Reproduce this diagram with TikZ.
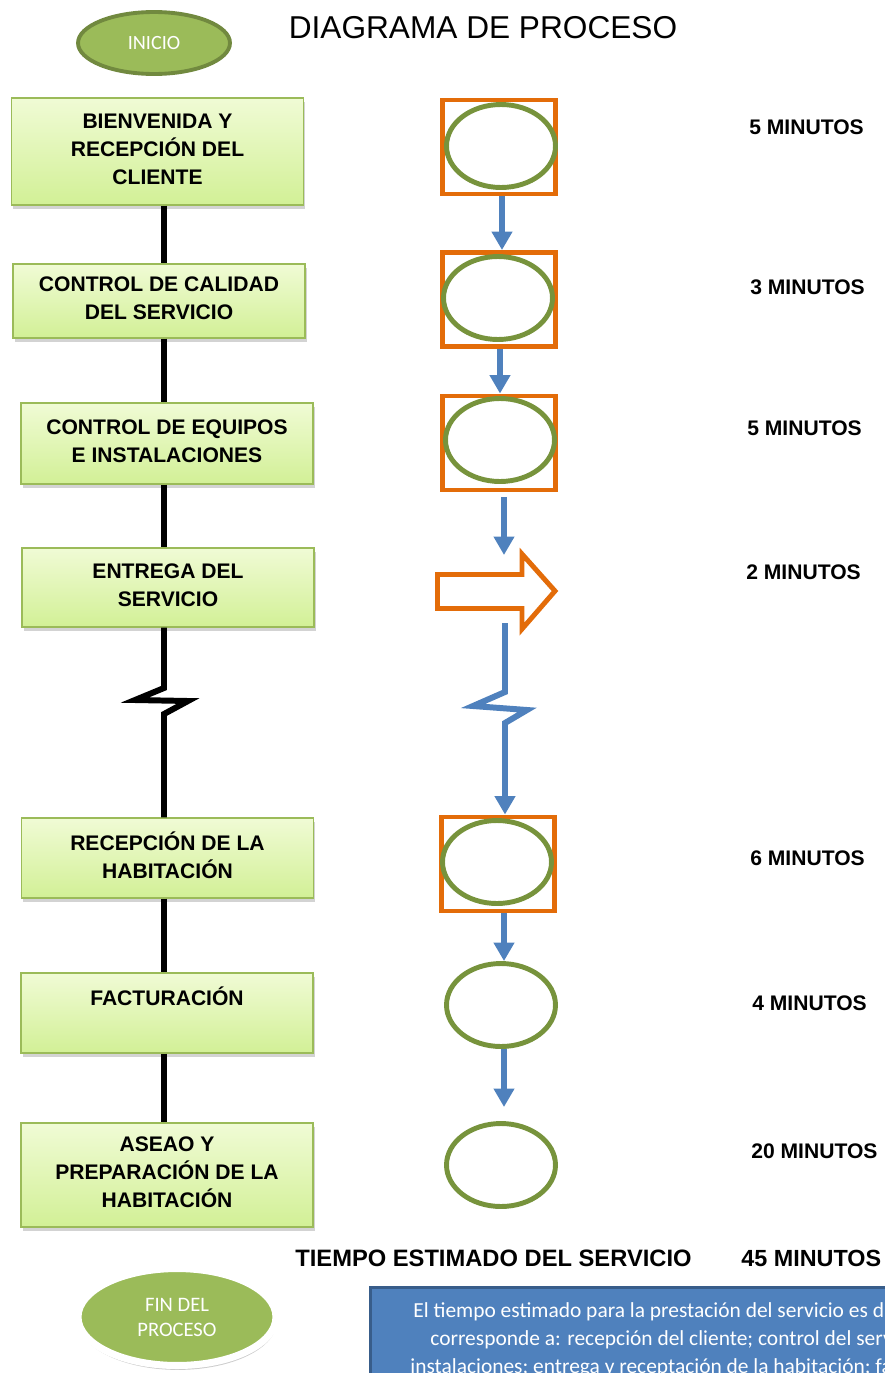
\documentclass[tikz,border=0pt]{standalone}
\usepackage{fontspec}
\setmainfont{Liberation Sans}
\newfontfamily\calibri{Carlito}
\usetikzlibrary{arrows.meta,shapes.geometric,shadows}

\definecolor{okgreen}{HTML}{9BBB59}
\definecolor{okgreendark}{HTML}{71893F}
\definecolor{opgreen}{HTML}{77933C}
\definecolor{insporange}{HTML}{E36C09}
\definecolor{flowblue}{HTML}{4F81BD}
\definecolor{flowbluedark}{HTML}{385D8A}
\definecolor{boxtop}{HTML}{F0FBD5}
\definecolor{boxbottom}{HTML}{D2F096}

\tikzset{
  procbox/.style={draw=okgreen, line width=0.8pt, top color=boxtop, bottom color=boxbottom,
    minimum width=5.84cm, align=center, inner sep=2pt, text depth=3pt,
    font=\bfseries\fontsize{12}{16}\selectfont,
    drop shadow={shadow xshift=1pt, shadow yshift=-2.5pt, opacity=0.35}},
  inspbox/.style={draw=insporange, line width=2.8pt, minimum width=2.26cm, minimum height=1.88cm, inner sep=0pt},
  opell/.style={ellipse, draw=opgreen, line width=2.8pt, minimum width=2.18cm, minimum height=1.66cm, inner sep=0pt},
  flow/.style={draw=flowblue, line width=3.4pt, -{Triangle[length=10.5pt,width=11.3pt]}},
  spine/.style={draw=black, line width=3.4pt},
  mins/.style={anchor=west, inner sep=0pt, font=\bfseries\fontsize{12}{14}\selectfont},
  notetext/.style={anchor=west, inner sep=0pt, text=white, font=\calibri\fontsize{12.2}{14}\selectfont}
}

\begin{document}
\begin{tikzpicture}[x=0.02cm, y=-0.02cm]
  \useasboundingbox (0,0) rectangle (885,1373);
  \clip (0,0) rectangle (885,1373);

  % title and start
  \node (titulo) at (483,28) {\fontsize{18}{18}\selectfont DIAGRAMA DE PROCESO};
  \node[ellipse, fill=okgreen, draw=okgreendark, line width=2.2pt, minimum width=3.04cm, minimum height=1.24cm,
    text=white, font=\calibri\fontsize{11.5}{14}\selectfont] (inicio) at (154,43) {\raisebox{-3pt}{INICIO}};

  % process steps
  \node[procbox, minimum height=2.14cm] (b1) at (157.5,151.5) {BIENVENIDA Y\\RECEPCIÓN DEL\\CLIENTE};
  \node[procbox, minimum height=1.48cm] (b2) at (159,301) {CONTROL DE CALIDAD\\DEL SERVICIO};
  \node[procbox, minimum height=1.62cm] (b3) at (167,443.5) {CONTROL DE EQUIPOS\\E INSTALACIONES};
  \node[procbox, minimum height=1.58cm] (b4) at (168,587.5) {ENTREGA DEL\\SERVICIO};
  \node[procbox, minimum height=1.60cm] (b5) at (167.5,858) {RECEPCIÓN DE LA\\HABITACIÓN};
  \node[procbox, minimum height=1.60cm] (b6) at (167,1013) {FACTURACIÓN\\\mbox{}};
  \node[procbox, minimum height=2.08cm] (b7) at (167,1175) {ASEAO Y\\PREPARACIÓN DE LA\\HABITACIÓN};

  % black line between steps
  \coordinate (spine) at (164,0);
  \draw[spine] (b1.south -| spine) -- (b2.north -| spine);
  \draw[spine] (b2.south -| spine) -- (b3.north -| spine);
  \draw[spine] (b3.south -| spine) -- (b4.north -| spine);
  \draw[spine] (b4.south -| spine) -- (164,688) -- (135,700) -- (188,701) -- (164,714) -- (b5.north -| spine);
  \draw[spine] (b5.south -| spine) -- (b6.north -| spine);
  \draw[spine] (b6.south -| spine) -- (b7.north -| spine);

  % symbols
  \node[inspbox] (sq1) at (499,147) {};
  \node[opell] (op1) at (501,146) {};
  \node[inspbox] (sq2) at (499,299.5) {};
  \node[opell] (op2) at (498,298) {};
  \node[inspbox] (sq3) at (499,443) {};
  \node[opell] (op3) at (500,440) {};
  \draw[insporange, line width=2.8pt, fill=white, line join=miter]
    (437.5,574.5) -- (522,574.5) -- (522,554) -- (555,591) -- (522,629) -- (522,608.5) -- (437.5,608.5) -- cycle;
  \node[inspbox] (sq5) at (498,864) {};
  \node[opell] (op5) at (497,862) {};
  \node[opell] (op6) at (501,1005) {};
  \node[opell] (op7) at (501,1165) {};

  % blue flow
  \coordinate (sq3-out) at (504,497);
  \coordinate (entrega-in) at (504,555);
  \coordinate (entrega-out) at (505,623);
  \coordinate (zz1) at (505,692);
  \coordinate (zz2) at (473,706);
  \coordinate (zz3) at (527,710);
  \coordinate (zz4) at (505,723);
  \draw[flow] (sq1.south -| 502,0) -- (sq2.north -| 502,0);
  \draw[flow] (sq2.south -| 500,0) -- (sq3.north -| 500,0);
  \draw[flow] (sq3-out) -- (entrega-in);
  \draw[flow, line join=miter] (entrega-out) -- (zz1) -- (zz2) -- (zz3) -- (zz4) -- (sq5.north -| zz4);
  \draw[flow] (sq5.south -| 504,0) -- (op6.north -| 504,0);
  \draw[flow, shorten >=8pt] (op6.south -| 504,0) -- (op7.north -| 504,0);

  % times
  \node[mins] (t1) at (749,127) {5 MINUTOS};
  \node[mins] (t2) at (750,287) {3 MINUTOS};
  \node[mins] (t3) at (747,428) {5 MINUTOS};
  \node[mins] (t4) at (746,572) {2 MINUTOS};
  \node[mins] (t5) at (750,858) {6 MINUTOS};
  \node[mins] (t6) at (752,1003) {4 MINUTOS};
  \node[mins] (t7) at (751,1151) {20 MINUTOS};

  \node[anchor=west, inner sep=0pt, font=\bfseries\fontsize{13.5}{16}\selectfont] (total) at (295,1258) {TIEMPO ESTIMADO DEL SERVICIO};
  \node[anchor=west, inner sep=0pt, font=\bfseries\fontsize{13.3}{16}\selectfont] (totalmin) at (741,1258) {45 MINUTOS};

  % end
  \node[ellipse, fill=okgreen, draw=white, line width=4pt, minimum width=3.96cm, minimum height=1.94cm,
    text=white, align=center, font=\calibri\fontsize{11.7}{14.2}\selectfont,
    drop shadow={shadow xshift=0.5pt, shadow yshift=-2.5pt, opacity=0.4}] (fin) at (177,1317) {FIN DEL\\PROCESO};

  % note box
  \node[anchor=north west, fill=flowblue, draw=flowbluedark, line width=1.6pt, minimum width=11cm, minimum height=2.4cm,
    drop shadow={shadow xshift=1pt, shadow yshift=-2pt, opacity=0.35}] (nota) at (369,1286) {};
  \node[notetext] (nota1) at (413,1312) {El tiempo estimado para la prestación del servicio es d};
  \node[notetext] (nota2) at (430,1340) {corresponde a: recepción del cliente; control del serv};
  \node[notetext] (nota3) at (410,1368) {instalaciones; entrega y receptación de la habitación; fa};
\end{tikzpicture}
\end{document}
